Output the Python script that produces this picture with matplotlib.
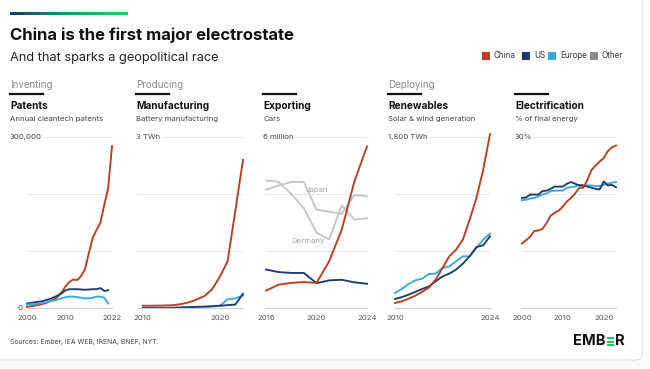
import numpy as np
import matplotlib
matplotlib.use("Agg")
import matplotlib.pyplot as plt
from matplotlib.patches import FancyBboxPatch, Rectangle
from matplotlib.colors import LinearSegmentedColormap

# ---------------- data ----------------
pat_years = list(range(2000, 2023))
pat_china = [2, 3, 4, 5.5, 7, 9, 12, 15, 20, 28, 38, 46, 50, 49, 56, 68, 96, 123, 137, 150, 181, 210, 284]
pat_us_years = list(range(2000, 2022))
pat_us = [8, 9, 10, 11, 12, 14, 16, 19, 22, 26, 31, 33, 33, 33, 32.5, 32, 32.5, 33, 33, 35, 30, 31]
pat_eu = [6, 6.5, 7, 8, 9, 10, 12, 13, 15, 17, 19, 20, 20, 19, 18, 17, 17, 18, 20, 20, 18, 8]

man_years = list(range(2010, 2024))
man_china = [0.04, 0.04, 0.042, 0.045, 0.05, 0.07, 0.1, 0.15, 0.21, 0.33, 0.55, 0.82, 1.7, 2.6]
man_us = [0.0, 0.0, 0.0, 0.002, 0.005, 0.01, 0.015, 0.02, 0.025, 0.03, 0.04, 0.05, 0.06, 0.25]
man_eu = [0.0, 0.0, 0.0, 0.0, 0.0, 0.005, 0.01, 0.015, 0.02, 0.03, 0.04, 0.15, 0.17, 0.22]

exp_years = list(range(2016, 2025))
exp_china = [0.61, 0.82, 0.88, 0.91, 0.88, 1.64, 2.75, 4.44, 5.67]
exp_us = [1.35, 1.26, 1.23, 1.23, 0.87, 0.97, 0.99, 0.9, 0.85]
exp_japan = [4.15, 4.3, 4.42, 4.42, 3.45, 3.38, 3.3, 3.97, 3.92]
exp_germany = [4.47, 4.43, 4.0, 3.5, 2.65, 2.4, 3.6, 3.1, 3.15]

ren_years = list(range(2010, 2025))
ren_china = [53, 70, 98, 130, 170, 215, 300, 420, 544, 614, 720, 930, 1158, 1456, 1830]
ren_us = [95, 115, 140, 170, 200, 228, 281, 333, 362, 404, 467, 544, 642, 660, 755]
ren_eu = [158, 200, 253, 291, 309, 358, 362, 421, 439, 491, 544, 544, 632, 720, 783]

ele_years = list(range(2000, 2024))
ele_china = [11.3, 11.9, 12.5, 13.5, 13.6, 13.9, 14.9, 16.2, 16.7, 17.1, 17.8, 18.7, 19.3, 20.1,
             21.1, 21.1, 22.5, 24.2, 25.0, 25.7, 26.3, 27.5, 28.2, 28.5]
ele_us = [19.3, 19.4, 19.9, 19.9, 19.9, 20.5, 20.6, 20.9, 21.3, 21.3, 21.3, 21.8, 22.1, 21.8,
          21.5, 21.5, 21.3, 21.1, 20.9, 20.8, 22.2, 21.5, 21.6, 21.2]
ele_eu = [18.9, 19.0, 19.2, 19.3, 19.6, 19.9, 20.1, 20.5, 20.6, 20.6, 20.6, 21.1, 21.2, 21.3,
          21.6, 21.5, 21.5, 21.5, 21.4, 21.4, 21.6, 21.8, 22.0, 22.1]

legend_labels = ["China", "US", "Europe", "Other"]

# ---------------- style ----------------
C_CHINA = "#c03b20"
C_US = "#1c3d6e"
C_EU = "#3aa8df"
C_OTHER = "#c6c6c6"
C_OTHER_LEG = "#8a8a8a"
FONT = ["Inter", "DejaVu Sans"]
plt.rcParams["font.family"] = FONT

W, H = 650, 369
fig = plt.figure(figsize=(W / 100, H / 100), dpi=100)
fig.patch.set_facecolor("#fbfbfb")


def fx(x):
    return x / W


def fy(y):
    return 1 - y / H


# card (behind everything)
card = FancyBboxPatch((fx(-10), fy(360)), fx(652), 370 / H,
                      boxstyle="round,pad=0,rounding_size=0.012",
                      transform=fig.transFigure, fc="white", ec="#e2e2e2", lw=0.8, zorder=-10)
fig.patches.append(card)

# gradient bar
gax = fig.add_axes([fx(10), fy(15), fx(118), 3 / H])
cmap = LinearSegmentedColormap.from_list("g", ["#1c3768", "#14a070", "#22d06c"])
gax.imshow(np.linspace(0, 1, 256).reshape(1, -1), aspect="auto", cmap=cmap)
gax.axis("off")

# titles
fig.text(fx(10), fy(40), "China is the first major electrostate", fontsize=12.0,
         fontweight="bold", color="#111111", va="baseline")
fig.text(fx(10), fy(60.5), "And that sparks a geopolitical race", fontsize=9.2,
         color="#222222", va="baseline")

# legend
leg_cols = [C_CHINA, C_US, C_EU, C_OTHER_LEG]
leg_sq_x = [482, 522, 548, 590]
for lab, col, sx in zip(legend_labels, leg_cols, leg_sq_x):
    fig.patches.append(Rectangle((fx(sx), fy(60)), fx(8), 8 / H, transform=fig.transFigure,
                                 fc=col, ec="none"))
    fig.text(fx(sx + 12), fy(56), lab, fontsize=5.8, color="#333333", va="center")

# section labels
for sx, lab in [(10, "Inventing"), (136, "Producing"), (388, "Deploying")]:
    fig.text(fx(sx), fy(87.5), lab, fontsize=7.0, color="#8a8a8a", va="baseline")

panels = [
    dict(x0=10, l=27, r=112, title="Patents", sub="Annual cleantech patents", top="300,000",
         ymax=300, xlim=(2000, 2022), ticks=[2000, 2010, 2022]),
    dict(x0=136, l=137, r=243, title="Manufacturing", sub="Battery manufacturing", top="3 TWh",
         ymax=3, xlim=(2009.25, 2023), ticks=[2010, 2020]),
    dict(x0=263, l=266, r=367, title="Exporting", sub="Cars", top="6 million",
         ymax=6, xlim=(2016, 2024), ticks=[2016, 2020, 2024]),
    dict(x0=388, l=395, r=490, title="Renewables", sub="Solar & wind generation", top="1,800 TWh",
         ymax=1800, xlim=(2010, 2024), ticks=[2010, 2024]),
    dict(x0=515, l=522, r=616, title="Electrification", sub="% of final energy", top="30%",
         ymax=30, xlim=(2000, 2023), ticks=[2000, 2010, 2020]),
]

series = [
    [(pat_years, pat_china, C_CHINA), (pat_us_years, pat_us, C_US), (pat_us_years, pat_eu, C_EU)],
    [(man_years, man_china, C_CHINA), (man_years, man_eu, C_EU), (man_years, man_us, C_US)],
    [(exp_years, exp_japan, C_OTHER), (exp_years, exp_germany, C_OTHER),
     (exp_years, exp_us, C_US), (exp_years, exp_china, C_CHINA)],
    [(ren_years, ren_eu, C_EU), (ren_years, ren_us, C_US), (ren_years, ren_china, C_CHINA)],
    [(ele_years, ele_eu, C_EU), (ele_years, ele_us, C_US), (ele_years, ele_china, C_CHINA)],
]

top_px, bot_px = 137, 308
for p, ser in zip(panels, series):
    # header
    fig.add_artist(plt.Line2D([fx(p["x0"]), fx(p["x0"] + 33)], [fy(94.3), fy(94.3)],
                              color="#111111", lw=1.6, transform=fig.transFigure))
    fig.text(fx(p["x0"]), fy(109.3), p["title"], fontsize=7.3, fontweight="bold",
             color="#111111", va="baseline")
    fig.text(fx(p["x0"]), fy(120.7), p["sub"], fontsize=5.6, color="#444444", va="baseline")

    ax = fig.add_axes([fx(p["l"]), fy(bot_px), fx(p["r"] - p["l"]), (bot_px - top_px) / H])
    ax.set_facecolor("none")
    ax.set_xlim(*p["xlim"])
    ax.set_ylim(0, p["ymax"])
    ax.set_yticks(np.linspace(0, p["ymax"], 4))
    ax.grid(axis="y", color="#e8e8e8", lw=0.8)
    ax.set_axisbelow(True)
    for s in ["left", "right", "top"]:
        ax.spines[s].set_visible(False)
    ax.spines["bottom"].set_color("#cfcfcf")
    ax.spines["bottom"].set_linewidth(0.8)
    ax.tick_params(left=False, labelleft=False, bottom=False, pad=1.5)
    ax.set_xticks(p["ticks"])
    ax.set_xticklabels([str(t) for t in p["ticks"]], fontsize=5.6, color="#555555")
    for xs, ys, col in ser:
        ax.plot(xs, ys, color=col, lw=1.35, clip_on=False, solid_joinstyle="round")

    fig.text(fx(p["x0"]), fy(top_px), p["top"], fontsize=5.6, color="#444444", va="center",
             ha="left", bbox=dict(fc="white", ec="none", pad=1.0))

    if p["title"] == "Patents":
        fig.text(fx(20), fy(bot_px), "0", fontsize=5.6, color="#444444", va="center", ha="center")
    if p["title"] == "Exporting":
        ax.text(2019.1, 4.15, "Japan", fontsize=5.6, color="#a0a0a0", va="center")
        ax.text(2018.0, 2.35, "Germany", fontsize=5.6, color="#a0a0a0", va="center")

# footer
fig.text(fx(10), fy(342), "Sources: Ember, IEA WEB, IRENA, BNEF, NYT.", fontsize=4.9,
         color="#444444", va="center")

t1 = fig.text(fx(573), fy(341), "EMB", fontsize=10.6, fontweight="bold", color="#111111", va="center")
fig.canvas.draw()
bb = t1.get_window_extent()
ex0 = bb.x1 + 1.3
bar_w = 7.0
for yy in [337.0, 340.8, 344.6]:
    fig.patches.append(Rectangle((ex0 / W, fy(yy + 1.8)), bar_w / W, 2.0 / H,
                                 transform=fig.transFigure, fc="#20c46a", ec="none"))
fig.text((ex0 + bar_w + 1.3) / W, fy(341), "R", fontsize=10.6, fontweight="bold",
         color="#111111", va="center")

fig.savefig("out.png", dpi=100, facecolor=fig.get_facecolor())
